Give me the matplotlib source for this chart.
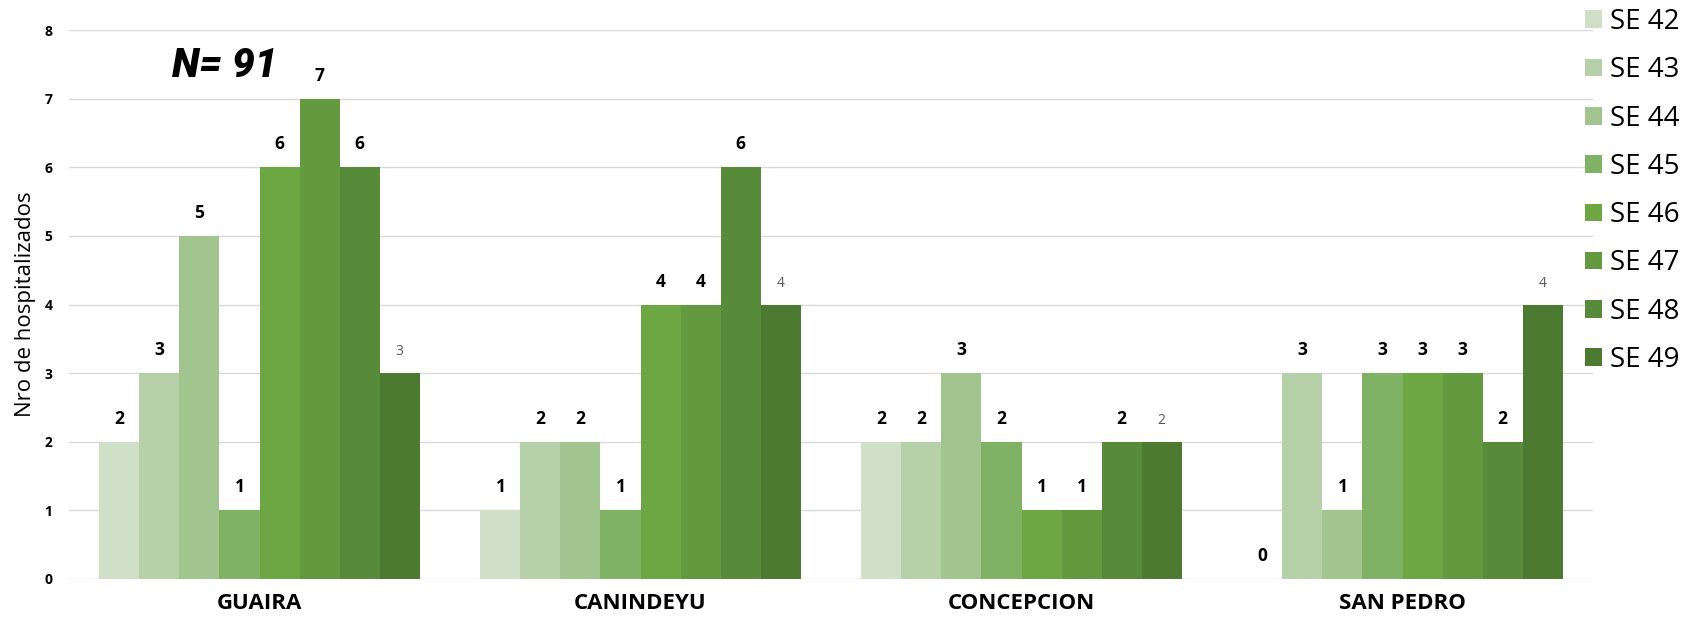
import matplotlib
matplotlib.use("Agg")
import matplotlib.pyplot as plt
import numpy as np

categories = ["GUAIRA", "CANINDEYU", "CONCEPCION", "SAN PEDRO"]
series = ["SE 42", "SE 43", "SE 44", "SE 45", "SE 46", "SE 47", "SE 48", "SE 49"]
se42 = [2, 1, 2, 0]
se43 = [3, 2, 2, 3]
se44 = [5, 2, 3, 1]
se45 = [1, 1, 2, 3]
se46 = [6, 4, 1, 3]
se47 = [7, 4, 1, 3]
se48 = [6, 6, 2, 2]
se49 = [3, 4, 2, 4]
values = [se42, se43, se44, se45, se46, se47, se48, se49]
colors = ["#d0dfc8", "#b6d1aa", "#a2c590", "#80b266", "#6ca743", "#63993f", "#588b39", "#4c7a30"]

plt.rcParams['font.family'] = ['Open Sans', 'DejaVu Sans']

fig = plt.figure(figsize=(16.88, 6.2), dpi=100)
ax = fig.add_axes([69/1688, 1-579/620, (1593-69)/1688, (579-30)/620])

x = np.arange(len(categories))
bw = 0.105
n = len(series)
for i, (name, vals, c) in enumerate(zip(series, values, colors)):
    pos = x + (i - (n - 1) / 2) * bw
    bars = ax.bar(pos, vals, width=bw, color=c, label=name, zorder=2)
    last = (i == n - 1)
    ax.bar_label(bars, labels=[str(v) for v in vals], padding=10,
                 fontsize=10 if last else 12.5,
                 fontweight='normal' if last else 'bold',
                 color='#595959' if last else 'black')

ax.set_xlim(-0.5, len(categories) - 0.5)
ax.set_ylim(0, 8)
ax.set_yticks(range(0, 9))
ax.set_yticklabels([str(v) for v in range(0, 9)], fontsize=10, fontweight='bold')
ax.set_xticks(x)
ax.set_xticklabels(categories, fontsize=16, fontweight='bold')
ax.tick_params(axis='both', length=0)
ax.tick_params(axis='y', pad=12)
ax.tick_params(axis='x', pad=10)
ax.grid(axis='y', color='#d9d9d9', linewidth=1, zorder=0)
ax.set_axisbelow(True)
for s in ax.spines.values():
    s.set_visible(False)
ax.set_ylabel("Nro de hospitalizados", fontsize=16, labelpad=6)

ax.text(103/1524, 0.935, "N= 91", transform=ax.transAxes, fontsize=29,
        family=['Roboto', 'DejaVu Sans'], fontweight='heavy', fontstyle='italic',
        va='center', ha='left')

fig.legend(loc='upper left', bbox_to_anchor=(1574/1688, 1.005), frameon=False,
           fontsize=20, handlelength=0.6, handleheight=0.6, handletextpad=0.3,
           labelspacing=0.73, borderaxespad=0)

fig.savefig("out.png", dpi=100)
